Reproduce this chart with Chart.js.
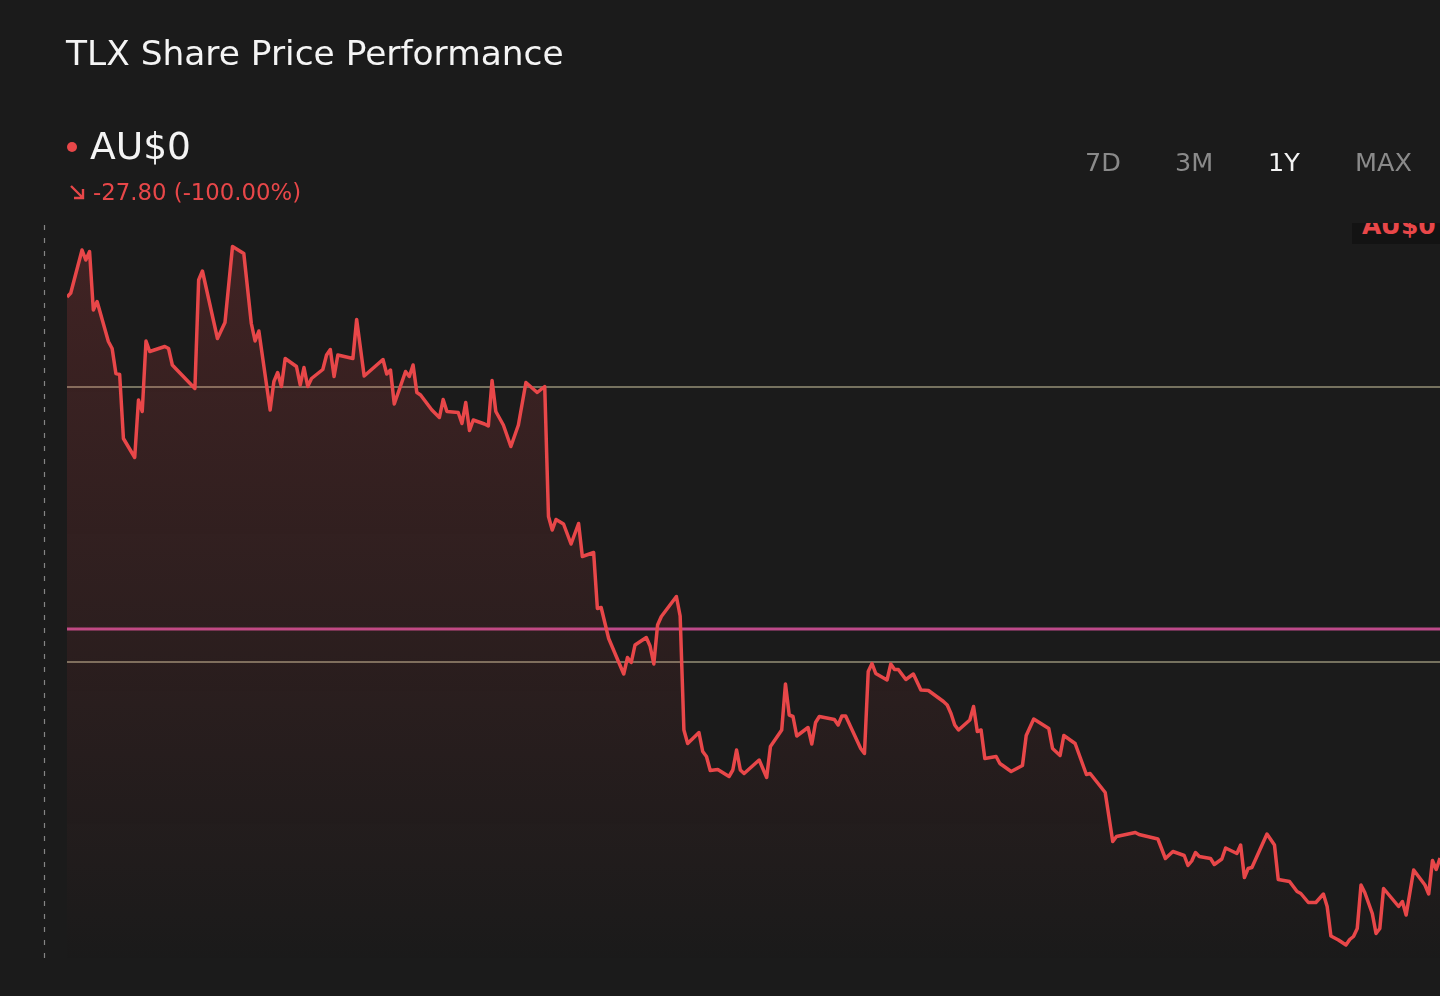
<!DOCTYPE html>
<html>
<head>
<meta charset="utf-8">
<title>TLX Share Price Performance</title>
<script src="https://cdn.jsdelivr.net/npm/chart.js@4.4.1/dist/chart.umd.min.js"></script>
<style>
  html, body { margin: 0; padding: 0; background: #1b1b1b; }
  body { width: 1440px; height: 996px; position: relative; overflow: hidden; font-family: "DejaVu Sans", sans-serif; }
  #chart { position: absolute; left: 0; top: 0; }
  .abs { position: absolute; white-space: nowrap; }
  #title { left: 66px; top: 36px; font-size: 34.4px; line-height: 34px; color: #f4f4f4; }
  #dot { left: 67px; top: 142px; width: 10px; height: 10px; border-radius: 50%; background: #e84749; }
  #price { left: 90px; top: 128px; font-size: 37.6px; line-height: 37px; color: #f4f4f4; }
  #change { left: 93px; top: 181px; font-size: 22.8px; line-height: 22px; color: #e84749; }
  #arrow { left: 68px; top: 183px; }
  .range { top: 150px; font-size: 25.5px; line-height: 25px; color: #8a8a8a; }
  .range.on { color: #f4f4f4; }
  #tag { left: 1352px; top: 223px; width: 100px; height: 21px; overflow: hidden; }
  #tag div { position: absolute; left: 0; top: -14px; height: 35px; width: 100px; background: #131313;
             color: #e84749; font-weight: bold; font-size: 25px; line-height: 33px; padding-left: 10px; }
</style>
</head>
<body>
<canvas id="chart" width="1440" height="996"></canvas>

<div id="title" class="abs">TLX Share Price Performance</div>
<div id="dot" class="abs"></div>
<div id="price" class="abs">AU$0</div>
<svg id="arrow" class="abs" width="20" height="20" viewBox="0 0 20 20">
  <path d="M3 3 L15 15 M6 15 L15 15 L15 6" stroke="#e84749" stroke-width="2.4" fill="none"/>
</svg>
<div id="change" class="abs">-27.80 (-100.00%)</div>
<div class="abs range" style="left:1085px">7D</div>
<div class="abs range" style="left:1175px">3M</div>
<div class="abs range on" style="left:1268px">1Y</div>
<div class="abs range" style="left:1355px">MAX</div>
<div id="tag" class="abs"><div>AU$0</div></div>

<script>
// trading day offsets over the last year and the close price (AU$) on each
const days = [
  0, 1, 4, 5, 6, 7, 8, 11, 12, 13, 14, 15, 18, 19, 20, 21, 22, 26, 27, 28,
  29, 34, 35, 36, 40, 42, 44, 47, 49, 50, 51, 54, 55, 56, 57, 58, 61, 62, 63, 64,
  65, 68, 69, 70, 71, 72, 76, 77, 79, 84, 85, 86, 87, 90, 91, 92, 93, 94, 97, 99,
  100, 101, 104, 105, 106, 107, 108, 111, 112, 113, 114, 116, 118, 120, 122, 125, 127, 128, 129, 130,
  132, 134, 136, 137, 140, 141, 142, 144, 148, 149, 150, 151, 154, 155, 156, 157, 158, 162, 163, 164,
  165, 168, 169, 170, 171, 173, 176, 177, 178, 179, 180, 184, 186, 187, 190, 191, 192, 193, 194, 197,
  198, 199, 200, 204, 205, 206, 207, 211, 212, 213, 214, 215, 218, 219, 220, 221, 223, 225, 227, 229,
  233, 234, 235, 236, 237, 240, 241, 242, 243, 244, 247, 248, 251, 254, 255, 257, 261, 262, 264, 265,
  268, 271, 272, 276, 278, 279, 284, 285, 290, 292, 294, 297, 298, 299, 300, 301, 304, 305, 307, 308,
  311, 312, 313, 314, 315, 319, 321, 322, 325, 327, 328, 330, 332, 334, 335, 336, 338, 340, 341, 342,
  343, 344, 345, 347, 348, 349, 350, 352, 354, 355, 356, 358, 361, 362, 363, 364, 365, 366
];
const prices = [
  27.80, 27.88, 28.74, 28.54, 28.71, 27.54, 27.71, 26.91, 26.77, 26.27, 26.25, 24.97, 24.59, 25.74, 25.51, 26.92, 26.71, 26.81, 26.77, 26.44,
  26.36, 25.97, 28.14, 28.32, 26.97, 27.29, 28.81, 28.67, 27.27, 26.92, 27.12, 25.54, 26.11, 26.29, 26.01, 26.57, 26.41, 26.04, 26.39, 26.01,
  26.17, 26.35, 26.64, 26.75, 26.21, 26.64, 26.57, 27.35, 26.22, 26.55, 26.26, 26.34, 25.66, 26.31, 26.21, 26.44, 25.89, 25.84, 25.54, 25.39,
  25.75, 25.51, 25.49, 25.27, 25.69, 25.13, 25.34, 25.26, 25.22, 26.13, 25.51, 25.24, 24.81, 25.24, 26.09, 25.89, 26.01, 23.41, 23.14, 23.35,
  23.26, 22.86, 23.27, 22.61, 22.69, 21.57, 21.59, 20.97, 20.26, 20.59, 20.49, 20.84, 20.99, 20.82, 20.46, 21.24, 21.41, 21.81, 21.42, 19.14,
  18.87, 19.09, 18.71, 18.61, 18.33, 18.35, 18.21, 18.34, 18.74, 18.34, 18.27, 18.54, 18.19, 18.81, 19.14, 20.06, 19.44, 19.41, 19.02, 19.19,
  18.86, 19.29, 19.41, 19.35, 19.24, 19.42, 19.42, 18.77, 18.67, 20.31, 20.47, 20.27, 20.14, 20.46, 20.35, 20.35, 20.15, 20.26, 19.94, 19.93,
  19.71, 19.64, 19.47, 19.24, 19.14, 19.34, 19.61, 19.11, 19.14, 18.57, 18.61, 18.47, 18.31, 18.43, 19.03, 19.36, 19.17, 18.77, 18.63, 19.03,
  18.87, 18.25, 18.27, 17.89, 16.91, 17.01, 17.09, 17.05, 16.96, 16.57, 16.71, 16.63, 16.43, 16.52, 16.69, 16.61, 16.57, 16.45, 16.56, 16.78,
  16.67, 16.84, 16.19, 16.37, 16.39, 17.06, 16.84, 16.15, 16.11, 15.91, 15.87, 15.69, 15.69, 15.86, 15.61, 15.02, 14.94, 14.84, 14.95, 15.01,
  15.17, 16.04, 15.89, 15.47, 15.07, 15.17, 15.97, 15.79, 15.61, 15.71, 15.44, 16.34, 16.04, 15.86, 16.53, 16.35, 16.58, 0
];
// horizontal reference levels (AU$)
const gridLevels = [26.0, 20.5];
const markerLevels = [21.16];

const xMax = 365;
const yMin = 14.44, yMax = 29.24;

const RED = '#e84749';

const priceData = days.map((d, i) => ({ x: d, y: prices[i] }));
const levelLine = (v) => [{ x: 0, y: v }, { x: xMax, y: v }];

const datasets = [
  {
    label: 'TLX',
    data: priceData,
    borderColor: RED,
    borderWidth: 3.5,
    borderJoinStyle: 'round',
    pointRadius: 0,
    tension: 0,
    fill: 'start',
    order: 0,
    backgroundColor: (ctx) => {
      const area = ctx.chart.chartArea;
      if (!area) return 'rgba(232,71,73,0.15)';
      const g = ctx.chart.ctx.createLinearGradient(0, area.top, 0, area.bottom);
      g.addColorStop(0, 'rgba(232,71,73,0.19)');
      g.addColorStop(0.6, 'rgba(232,71,73,0.08)');
      g.addColorStop(1, 'rgba(232,71,73,0.0)');
      return g;
    },
  },
];
gridLevels.forEach((v) => datasets.push({
  data: levelLine(v), borderColor: '#76725f', borderWidth: 2,
  pointRadius: 0, fill: false, order: 2,
}));
markerLevels.forEach((v) => datasets.push({
  data: levelLine(v), borderColor: '#bd4a8a', borderWidth: 3,
  pointRadius: 0, fill: false, order: 1,
}));

// dashed vertical guide to the left of the plot
const guidePlugin = {
  id: 'guide',
  afterDraw(chart) {
    const { ctx, chartArea } = chart;
    ctx.save();
    ctx.strokeStyle = '#858585';
    ctx.lineWidth = 1.2;
    ctx.setLineDash([5, 8]);
    ctx.beginPath();
    ctx.moveTo(44.5, chartArea.top);
    ctx.lineTo(44.5, chartArea.bottom);
    ctx.stroke();
    ctx.restore();
  },
};

new Chart(document.getElementById('chart'), {
  type: 'line',
  data: { datasets },
  options: {
    responsive: false,
    animation: false,
    layout: { padding: { left: 67, right: 0, top: 225, bottom: 31 } },
    scales: {
      x: { type: 'linear', min: 0, max: xMax, display: false },
      y: { min: yMin, max: yMax, display: false },
    },
    plugins: {
      legend: { display: false },
      tooltip: { enabled: false },
    },
  },
  plugins: [guidePlugin],
});
</script>
</body>
</html>
